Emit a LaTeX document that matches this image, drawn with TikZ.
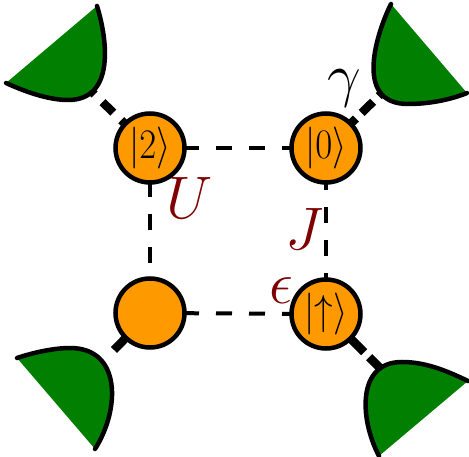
\RequirePackage{fix-cm}
\documentclass[tikz,border=0pt]{standalone}
\usetikzlibrary{backgrounds}
\definecolor{qorange}{HTML}{FF9900}
\definecolor{dgreen}{HTML}{007F00}
\definecolor{dred}{HTML}{7F0000}
\newcommand{\sitetext}[1]{\scalebox{0.88}[1]{#1}}
\tikzset{
  site/.style={circle,draw=black,fill=qorange,line width=4.5pt,minimum size=69pt,inner sep=0pt,font=\fontsize{42}{42}\selectfont},
  coupling/.style={line width=4pt,black,dash pattern=on 16pt off 17pt},
  decay/.style={line width=8.5pt,black},
  detfill/.style={fill=dgreen,draw=none},
  detedge/.style={line width=4.5pt,black,line cap=round},
  rlabel/.style={inner sep=0pt,text=dred,font=\fontsize{60}{60}\selectfont},
  klabel/.style={inner sep=0pt,text=black,font=\fontsize{60}{60}\selectfont},
}
\begin{document}
\begin{tikzpicture}[x=1pt,y=-1pt]
\useasboundingbox (0,0) rectangle (469,457);
\coordinate (tlend) at (93,93);
\coordinate (trend) at (385,90);
\coordinate (blend) at (114,350);
\coordinate (brend) at (385,373);
% detectors
\def\dettl{(97,6) .. controls (107,38) and (116,100) .. (68,100) .. controls (50,100) and (28,93) .. (6,83)}
\def\dettr{(391,4) .. controls (378,30) and (352,104) .. (408,104) .. controls (428,104) and (450,100) .. (467,93)}
\def\detbl{(17,358) .. controls (35,352) and (55,348) .. (70,348) .. controls (122,348) and (120,410) .. (95,449)}
\def\detbr{(468,381) .. controls (445,370) and (425,362) .. (402,362) .. controls (356,362) and (360,420) .. (379,456)}
\node[site] (q2) at (150,148) {\sitetext{$|2\rangle$}};
\node[site] (q0) at (326,148) {\sitetext{$|0\rangle$}};
\node[site] (qg) at (150,313) {};
\node[site] (qu) at (326,314) {\sitetext{$|{\uparrow}\rangle$}};
\begin{pgfonlayer}{background}
\draw[coupling] (q2.center) -- (q0.center);
\draw[coupling] (qg.center) -- (qu.center);
\draw[coupling] (q2.center) -- (qg.center);
\draw[coupling,dash phase=7pt] (q0.center) -- (qu.center);
\draw[decay,dash pattern=on 15pt off 11pt,dash phase=1pt] (q2.center) -- (tlend);
\draw[decay,dash pattern=on 16pt off 8pt,dash phase=22pt] (q0.center) -- (trend);
\draw[decay] (qg.center) -- (blend);
\draw[decay,dash pattern=on 18pt off 7pt,dash phase=14pt] (qu.center) -- (brend);
\end{pgfonlayer}
\fill[detfill] \dettl -- cycle;
\draw[detedge] \dettl;
\fill[detfill] \dettr -- cycle;
\draw[detedge] \dettr;
\fill[detfill] \detbl -- cycle;
\draw[detedge] \detbl;
\fill[detfill] \detbr -- cycle;
\draw[detedge] \detbr;
\node[rlabel] (lU) at (190,198) {$U$};
\node[rlabel] (lJ) at (305,229) {$J$};
\node[rlabel] (le) at (281,291) {$\epsilon$};
\node[klabel] (lg) at (344,88) {$\gamma$};
\end{tikzpicture}
\end{document}
